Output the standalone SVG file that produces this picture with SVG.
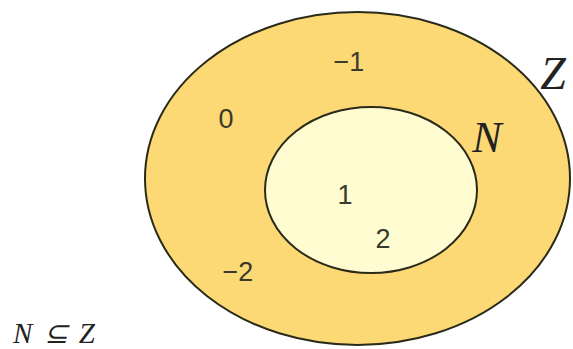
<svg xmlns="http://www.w3.org/2000/svg" width="573" height="349" viewBox="0 0 573 349">
<style>
.set{stroke:#2a2a1a;stroke-width:2}
.num{font-family:"Liberation Sans",Arial,sans-serif;font-size:27px;fill:#3a3a2a;text-anchor:middle}
.lbl{font-family:"Liberation Serif","Times New Roman",serif;font-style:italic;fill:#222}
</style>
<rect width="573" height="349" fill="#ffffff"/>
<g id="Z">
<ellipse class="set" cx="357.5" cy="178.5" rx="212.5" ry="166.5" fill="#fcd974"/>
<text class="lbl" x="553" y="89" font-size="46" text-anchor="middle">Z</text>
</g>
<g id="N">
<ellipse class="set" cx="371" cy="190" rx="106" ry="83" fill="#fffcd2"/>
<text class="lbl" x="487" y="152" font-size="44" text-anchor="middle">N</text>
</g>
<g id="numbers">
<text class="num" x="349" y="71">−1</text>
<text class="num" x="226" y="128">0</text>
<text class="num" x="345" y="204">1</text>
<text class="num" x="383" y="248">2</text>
<text class="num" x="238" y="281">−2</text>
</g>
<g id="relation">
<text class="lbl" x="13" y="343" font-size="29" textLength="82" lengthAdjust="spacing">N⊆Z</text>
</g>
<g id="connectors"/>
</svg>
